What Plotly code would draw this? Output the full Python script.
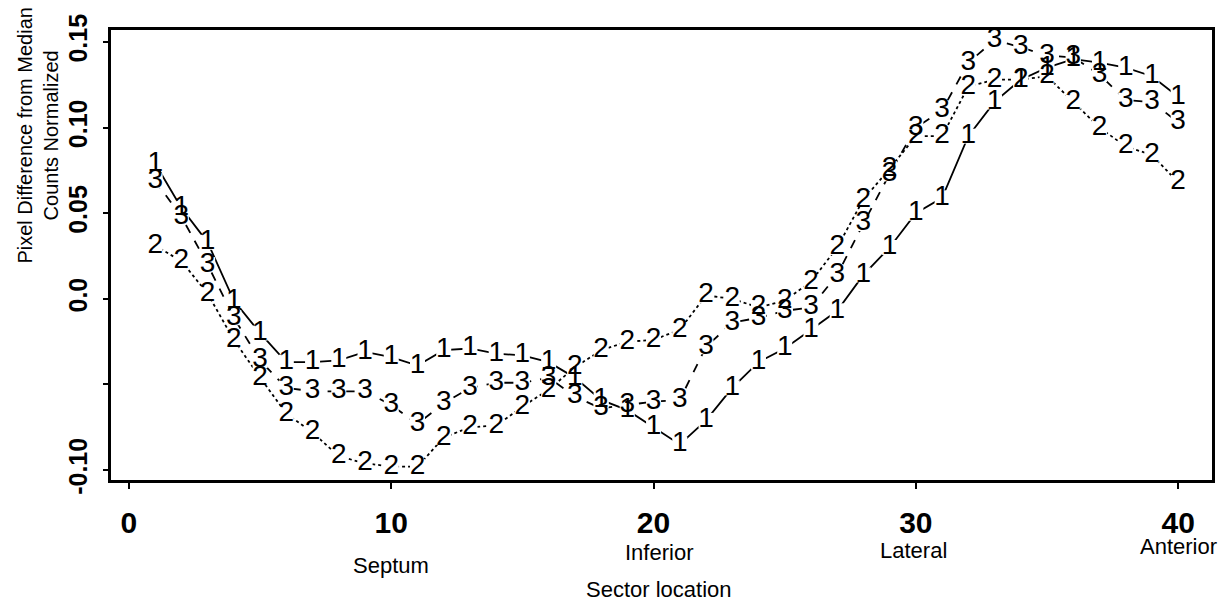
import plotly.graph_objects as go

sectors = [1, 2, 3, 4, 5, 6, 7, 8, 9, 10, 11, 12, 13, 14, 15, 16, 17, 18, 19, 20,
           21, 22, 23, 24, 25, 26, 27, 28, 29, 30, 31, 32, 33, 34, 35, 36, 37, 38, 39, 40]

series1 = [0.079, 0.053, 0.033, -0.001, -0.020, -0.037, -0.037, -0.036, -0.031, -0.034,
           -0.039, -0.030, -0.029, -0.032, -0.033, -0.037, -0.046, -0.059, -0.065, -0.075,
           -0.085, -0.071, -0.052, -0.037, -0.029, -0.018, -0.007, 0.014, 0.030, 0.050,
           0.059, 0.095, 0.115, 0.128, 0.135, 0.140, 0.138, 0.135, 0.130, 0.118]

series2 = [0.031, 0.022, 0.003, -0.024, -0.046, -0.067, -0.078, -0.092, -0.096, -0.098,
           -0.098, -0.081, -0.075, -0.074, -0.063, -0.053, -0.040, -0.030, -0.025, -0.024,
           -0.018, 0.002, 0.000, -0.005, -0.001, 0.010, 0.030, 0.058, 0.076, 0.095,
           0.095, 0.124, 0.128, 0.128, 0.130, 0.115, 0.100, 0.089, 0.084, 0.068]

series3 = [0.069, 0.048, 0.020, -0.011, -0.036, -0.052, -0.054, -0.054, -0.054, -0.062,
           -0.073, -0.061, -0.052, -0.049, -0.049, -0.046, -0.057, -0.064, -0.062, -0.060,
           -0.059, -0.028, -0.014, -0.011, -0.007, -0.005, 0.014, 0.044, 0.073, 0.100,
           0.110, 0.138, 0.151, 0.147, 0.142, 0.141, 0.131, 0.116, 0.115, 0.103]

series_names = ["1", "2", "3"]
series_dash = ["solid", "dot", "dash"]

x_ticks = [0, 10, 20, 30, 40]
y_ticks = [0.15, 0.10, 0.05, 0.0, -0.05, -0.10]
y_ticktext = ["0.15", "0.10", "0.05", "0.0", "", "-0.10"]

region_labels = ["Septum", "Inferior", "Lateral", "Anterior"]
region_x = [10, 20.2, 29.9, 40]
region_y = [-0.189, -0.162, -0.156, -0.148]

all_series = [series1, series2, series3]

FONT = "Liberation Sans, Arial, sans-serif"

fig = go.Figure()

# lines
for name, vals, dash in zip(series_names, all_series, series_dash):
    fig.add_trace(go.Scatter(
        x=sectors, y=vals, mode="lines", name=name, showlegend=False,
        line=dict(color="black", width=1.8, dash=dash), hoverinfo="skip"))

# white patches under the number markers
for name, vals in zip(series_names, all_series):
    fig.add_trace(go.Scatter(
        x=sectors, y=vals, mode="markers", showlegend=False, hoverinfo="skip",
        marker=dict(symbol="square", size=15, color="white", line=dict(width=0))))

# number markers
for name, vals in zip(series_names, all_series):
    fig.add_trace(go.Scatter(
        x=sectors, y=vals, mode="text", name=name, showlegend=False,
        text=[name] * len(vals), textposition="middle center",
        textfont=dict(family=FONT, size=28, color="black")))

annotations = []
for lab, rx, ry in zip(region_labels, region_x, region_y):
    annotations.append(dict(
        x=rx, y=ry, xref="x", yref="paper", text=lab, showarrow=False,
        xanchor="center", yanchor="middle",
        font=dict(family=FONT, size=22, color="black")))

annotations.append(dict(
    x=20.2, y=-0.244, xref="x", yref="paper", text="Sector location", showarrow=False,
    xanchor="center", yanchor="middle",
    font=dict(family=FONT, size=22, color="black")))

annotations.append(dict(
    x=-0.0665, y=0.765, xref="paper", yref="paper",
    text="Pixel Difference from Median<br>Counts Normalized", showarrow=False,
    textangle=-90, xanchor="center", yanchor="middle",
    font=dict(family=FONT, size=20, color="black")))

fig.update_layout(
    width=1220, height=608,
    margin=dict(l=111, r=5, t=30, b=128),
    paper_bgcolor="white", plot_bgcolor="white",
    annotations=annotations,
    xaxis=dict(
        range=[-0.684, 41.29], tickvals=x_ticks, ticktext=[str(v) for v in x_ticks],
        showgrid=False, zeroline=False, showline=True, mirror=True,
        linecolor="black", linewidth=2.5, ticks="outside", ticklen=6,
        tickwidth=1.5, tickcolor="black", ticklabelstandoff=8,
        tickfont=dict(family=FONT, size=30, color="black", weight="bold")),
    yaxis=dict(
        range=[-0.1058, 0.157], tickvals=y_ticks, ticktext=y_ticktext,
        showgrid=False, zeroline=False, showline=True, mirror=True,
        linecolor="black", linewidth=2.5, ticks="outside", ticklen=5,
        tickwidth=1.5, tickcolor="black", tickangle=-90, ticklabelstandoff=6,
        tickfont=dict(family=FONT, size=25, color="black", weight="bold")),
)

fig.write_html("out.html")
